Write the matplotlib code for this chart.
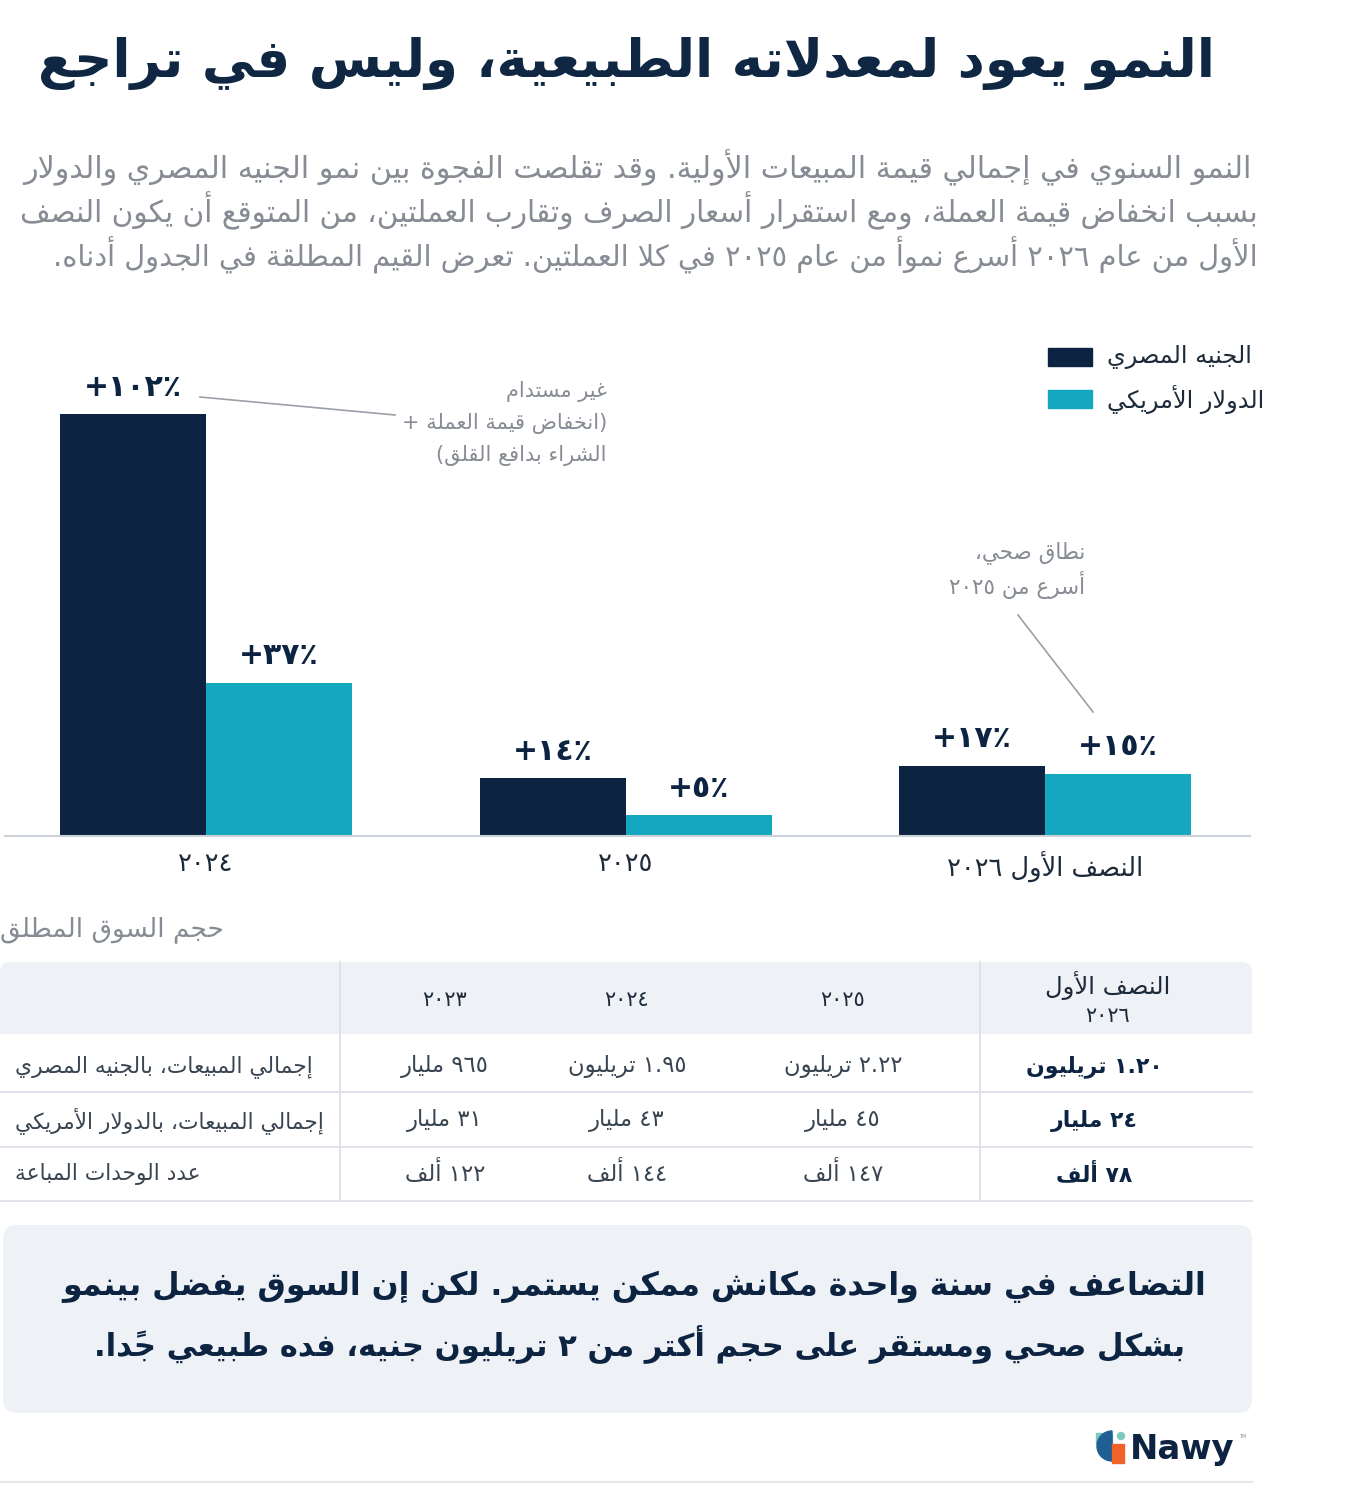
import matplotlib
matplotlib.use("Agg")
import matplotlib.pyplot as plt
from matplotlib.patches import Rectangle, FancyBboxPatch, Wedge, Circle
import numpy as np

# ---------------- data ----------------
title = "النمو يعود لمعدلاته الطبيعية، وليس في تراجع"
subtitle = [
    "النمو السنوي في إجمالي قيمة المبيعات الأولية. وقد تقلصت الفجوة بين نمو الجنيه المصري والدولار",
    "بسبب انخفاض قيمة العملة، ومع استقرار أسعار الصرف وتقارب العملتين، من المتوقع أن يكون النصف",
    "الأول من عام ٢٠٢٦ أسرع نموأ من عام ٢٠٢٥ في كلا العملتين. تعرض القيم المطلقة في الجدول أدناه.",
]
categories = ["٢٠٢٤", "٢٠٢٥", "النصف الأول ٢٠٢٦"]
series_names = ["الجنيه المصري", "الدولار الأمريكي"]
egp_growth = [102, 14, 17]
usd_growth = [37, 5, 15]
egp_labels = ["+١٠٢٪", "+١٤٪", "+١٧٪"]
usd_labels = ["+٣٧٪", "+٥٪", "+١٥٪"]
note1 = ["غير مستدام", "(انخفاض قيمة العملة +", "الشراء بدافع القلق)"]
note2 = ["نطاق صحي،", "أسرع من ٢٠٢٥"]

table_title = "حجم السوق المطلق"
table_cols = ["٢٠٢٣", "٢٠٢٤", "٢٠٢٥", "النصف الأول\n٢٠٢٦"]
row_labels = ["إجمالي المبيعات، بالجنيه المصري", "إجمالي المبيعات، بالدولار الأمريكي", "عدد الوحدات المباعة"]
v2023 = ["٩٦٥ مليار", "٣١ مليار", "١٢٢ ألف"]
v2024 = ["١.٩٥ تريليون", "٤٣ مليار", "١٤٤ ألف"]
v2025 = ["٢.٢٢ تريليون", "٤٥ مليار", "١٤٧ ألف"]
v2026h1 = ["١.٢٠ تريليون", "٢٤ مليار", "٧٨ ألف"]
footer = ["التضاعف في سنة واحدة مكانش ممكن يستمر. لكن إن السوق يفضل بينمو",
          "بشكل صحي ومستقر على حجم أكتر من ٢ تريليون جنيه، فده طبيعي جدًا."]
brand = "Nawy"

# ---------------- Arabic shaping helpers ----------------
_TABLE = [('\u0621', 0xFE80, 1), ('\u0622', 0xFE81, 2), ('\u0623', 0xFE83, 2), ('\u0624', 0xFE85, 2),
          ('\u0625', 0xFE87, 2), ('\u0626', 0xFE89, 4), ('\u0627', 0xFE8D, 2), ('\u0628', 0xFE8F, 4),
          ('\u0629', 0xFE93, 2), ('\u062A', 0xFE95, 4), ('\u062B', 0xFE99, 4), ('\u062C', 0xFE9D, 4),
          ('\u062D', 0xFEA1, 4), ('\u062E', 0xFEA5, 4), ('\u062F', 0xFEA9, 2), ('\u0630', 0xFEAB, 2),
          ('\u0631', 0xFEAD, 2), ('\u0632', 0xFEAF, 2), ('\u0633', 0xFEB1, 4), ('\u0634', 0xFEB5, 4),
          ('\u0635', 0xFEB9, 4), ('\u0636', 0xFEBD, 4), ('\u0637', 0xFEC1, 4), ('\u0638', 0xFEC5, 4),
          ('\u0639', 0xFEC9, 4), ('\u063A', 0xFECD, 4), ('\u0641', 0xFED1, 4), ('\u0642', 0xFED5, 4),
          ('\u0643', 0xFED9, 4), ('\u0644', 0xFEDD, 4), ('\u0645', 0xFEE1, 4), ('\u0646', 0xFEE5, 4),
          ('\u0647', 0xFEE9, 4), ('\u0648', 0xFEED, 2), ('\u0649', 0xFEEF, 2), ('\u064A', 0xFEF1, 4),
          ('\uFEF5', 0xFEF5, 2), ('\uFEF7', 0xFEF7, 2), ('\uFEF9', 0xFEF9, 2), ('\uFEFB', 0xFEFB, 2)]
FORMS = {c: (b, n) for c, b, n in _TABLE}
MARKS = set(chr(c) for c in range(0x064B, 0x0653))
LIG = {'\u0622': '\uFEF5', '\u0623': '\uFEF7', '\u0625': '\uFEF9', '\u0627': '\uFEFB'}


def shape(s):
    chars = []
    i = 0
    while i < len(s):
        c = s[i]
        if c == '\u0644' and i + 1 < len(s) and s[i + 1] in LIG:
            chars.append(LIG[s[i + 1]])
            i += 2
            continue
        chars.append(c)
        i += 1

    def neighbour(idx, step):
        j = idx + step
        while 0 <= j < len(chars) and chars[j] in MARKS:
            j += step
        return chars[j] if 0 <= j < len(chars) else None

    out = []
    for idx, c in enumerate(chars):
        if c not in FORMS:
            out.append(c)
            continue
        base, n = FORMS[c]
        p = neighbour(idx, -1)
        nx = neighbour(idx, 1)
        jp = n > 1 and p in FORMS and FORMS[p][1] == 4
        jn = n == 4 and nx in FORMS and FORMS[nx][1] > 1
        if jp and jn:
            f = base + 3
        elif jp:
            f = base + 1
        elif jn:
            f = base + 2
        else:
            f = base
        out.append(chr(f))
    return ''.join(out)


DIG = set('0123456789٠١٢٣٤٥٦٧٨٩')


def ar(s):
    lines = s.split('\n')
    res = []
    for line in lines:
        t = shape(line)
        tokens = []
        i = 0
        while i < len(t):
            c = t[i]
            if c in DIG:
                j = i
                while j < len(t) and (t[j] in DIG or (t[j] in '.,٫' and j + 1 < len(t) and t[j + 1] in DIG)):
                    j += 1
                tokens.append(t[i:j])
                i = j
            else:
                j = i + 1
                while j < len(t) and t[j] in MARKS:
                    j += 1
                tokens.append(t[i:j])
                i = j
        mirror = {'(': ')', ')': '('}
        res.append(''.join(mirror.get(tk, tk) for tk in reversed(tokens)))
    return '\n'.join(res)


# ---------------- figure ----------------
W, H = 1350, 1504
fig = plt.figure(figsize=(W / 100, H / 100), dpi=100)
fig.patch.set_facecolor('white')
plt.rcParams['font.family'] = ['DejaVu Sans']

NAVY = '#0c2441'
TEAL = '#14a7bf'
GRAY = '#868b94'
TXT = '#1d2a3a'
PANEL = '#eef2f7'
LINE = '#dde1e7'

bg = fig.add_axes([0, 0, 1, 1])
bg.set_xlim(0, W)
bg.set_ylim(H, 0)
bg.axis('off')

renderer = fig.canvas.get_renderer()


def fit(t, width_px):
    bb = t.get_window_extent(renderer)
    t.set_fontsize(t.get_fontsize() * width_px / bb.width)
    return t.get_fontsize()


# title
tt = bg.text(1215, 64, ar(title), ha='right', va='center', fontsize=40, fontweight='bold', color='#0f2742')
fit(tt, 1177)

# subtitle (each line justified to its width in the reference)
sub_y = [168, 211, 255]
sub_right = [1252, 1258, 1258]
sub_width = [1230, 1238, 1208]
for yy, rx, wd, line in zip(sub_y, sub_right, sub_width, subtitle):
    t = bg.text(rx, yy, ar(line), ha='right', va='center', fontsize=18, color=GRAY)
    fit(t, wd)

# ---------------- chart ----------------
base_px = 836
top_px = 330
ax = fig.add_axes([5 / W, (H - base_px) / H, 1245 / W, (base_px - top_px) / H])
ax.set_facecolor('none')
px_per_unit = 422 / 102
ax.set_ylim(0, (base_px - top_px) / px_per_unit)
grp = 419.5
ax.set_xlim(-(206 - 5) / grp, 2 + (1250 - 1045) / grp)
bw = 146 / grp
x = np.arange(len(categories))
b1 = ax.bar(x - bw / 2, egp_growth, bw, color=NAVY, zorder=2)
b2 = ax.bar(x + bw / 2, usd_growth, bw, color=TEAL, zorder=2)
for rect, lab in zip(b1, egp_labels):
    ax.annotate(lab, (rect.get_x() + rect.get_width() / 2, rect.get_height()), xytext=(0, 9),
                textcoords='offset points', ha='center', va='bottom', fontsize=21.5, fontweight='bold', color=NAVY)
for rect, lab in zip(b2, usd_labels):
    ax.annotate(lab, (rect.get_x() + rect.get_width() / 2, rect.get_height()), xytext=(0, 9),
                textcoords='offset points', ha='center', va='bottom', fontsize=21.5, fontweight='bold', color=NAVY)
for sp in ['top', 'right', 'left']:
    ax.spines[sp].set_visible(False)
ax.spines['bottom'].set_color('#cdd2d8')
ax.spines['bottom'].set_linewidth(1.5)
ax.set_yticks([])
ax.set_xticks(x)
ax.set_xticklabels([ar(c) for c in categories], fontsize=18.5, color=TXT)
ax.tick_params(axis='x', length=0, pad=11)

# legend (manual)
for i, (name, col) in enumerate(zip(series_names, [NAVY, TEAL])):
    yc = 357 + i * 42
    bg.add_patch(Rectangle((1048, yc - 9), 44, 18, color=col))
    bg.text(1107, yc, ar(name), ha='left', va='center', fontsize=17.3, color=TXT)

# annotations
bg.plot([200, 395], [397, 415], color='#9aa0a8', lw=1.2)
for i, line in enumerate(note1):
    bg.text(607, 392 + i * 32, ar(line), ha='right', va='center', fontsize=15, color=GRAY)
bg.plot([1018, 1093], [615, 712], color='#9aa0a8', lw=1.2)
for i, line in enumerate(note2):
    bg.text(1085, 553 + i * 32, ar(line), ha='right', va='center', fontsize=15.5, color=GRAY)

# ---------------- table ----------------
bg.text(0, 930, ar(table_title), ha='left', va='center', fontsize=19, color=GRAY)
bg.add_patch(FancyBboxPatch((0, 962), 1252, 72, boxstyle='round,pad=0,rounding_size=10',
                            facecolor=PANEL, edgecolor='none'))
bg.add_patch(Rectangle((0, 1000), 1252, 34, facecolor=PANEL, edgecolor='none'))
col_x = [445, 627, 843, 1108]
for cx, lab in zip(col_x[:3], table_cols[:3]):
    bg.text(cx, 1000, ar(lab), ha='center', va='center', fontsize=15, color=TXT)
h_top, h_bot = table_cols[3].split('\n')
bg.text(col_x[3], 985, ar(h_top), ha='center', va='center', fontsize=17.5, color=TXT)
bg.text(col_x[3], 1016, ar(h_bot), ha='center', va='center', fontsize=15, color=TXT)
row_y = [1067, 1121, 1174]
for yy in [1092, 1147, 1201]:
    bg.plot([0, 1252], [yy, yy], color=LINE, lw=1.3)
for xx in [340, 980]:
    bg.plot([xx, xx], [962, 1201], color=LINE, lw=1.3)
for i, yy in enumerate(row_y):
    bg.text(15, yy, ar(row_labels[i]), ha='left', va='center', fontsize=15.7, color='#3a4552')
    bg.text(col_x[0], yy, ar(v2023[i]), ha='center', va='center', fontsize=16.3, color='#3a4552')
    bg.text(col_x[1], yy, ar(v2024[i]), ha='center', va='center', fontsize=16.3, color='#3a4552')
    bg.text(col_x[2], yy, ar(v2025[i]), ha='center', va='center', fontsize=16.3, color='#3a4552')
    bg.text(1094, yy, ar(v2026h1[i]), ha='center', va='center', fontsize=15.8,
            fontweight='bold', color=NAVY)

# ---------------- footer box ----------------
bg.add_patch(FancyBboxPatch((3, 1225), 1249, 188, boxstyle='round,pad=0,rounding_size=14',
                            facecolor=PANEL, edgecolor='none'))
f1 = bg.text(634, 1287, ar(footer[0]), ha='center', va='center', fontsize=26, fontweight='bold', color=NAVY)
fit(f1, 1143)
f2 = bg.text(640, 1345, ar(footer[1]), ha='center', va='center', fontsize=26, fontweight='bold', color=NAVY)
fit(f2, 1090)

# logo
bg.add_patch(Rectangle((1096, 1433), 16, 10, color='#7cc9be'))
bg.add_patch(Circle((1121, 1436), 3.5, color='#7cc9be'))
bg.add_patch(Wedge((1112, 1446), 15, 90, 270, color='#1f5f93'))
bg.add_patch(Rectangle((1112, 1444), 12, 19, color='#f0622a'))
nt = bg.text(1130, 1450, brand, ha='left', va='center', fontsize=25, fontweight='bold', color=NAVY)
fit(nt, 105)
bg.text(1239, 1437, 'TM', ha='left', va='center', fontsize=3.5, color=GRAY)
bg.plot([0, 1252], [1482, 1482], color='#e3e6ea', lw=1.5)

fig.savefig('out.png', dpi=100, facecolor='white')
